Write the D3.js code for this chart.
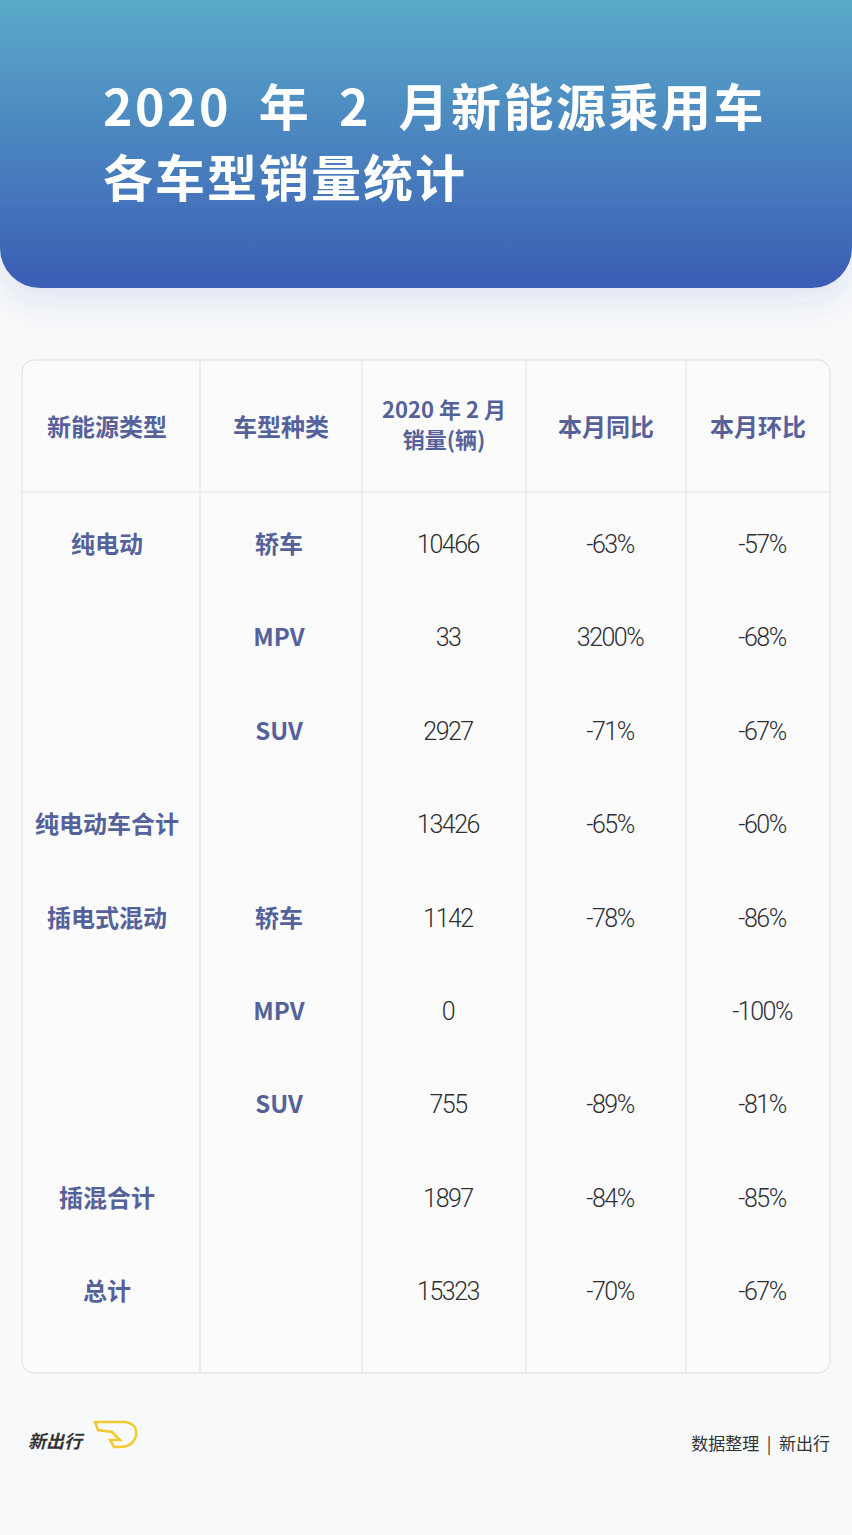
<!DOCTYPE html>
<html><head><meta charset="utf-8">
<script src="https://cdn.jsdelivr.net/npm/d3@7"></script>
<style>body{margin:0;background:#f8f9fa}</style></head>
<body><svg id="c" width="852" height="1535"></svg>
<script>
const headers=[["新能源类型"],["车型种类"],["2020 年 2 月","销量(辆)"],["本月同比"],["本月环比"]];
const energyType=["纯电动","","","纯电动车合计","插电式混动","","","插混合计","总计"];
const carType=["轿车","MPV","SUV","","轿车","MPV","SUV","",""];
const sales=["10466","33","2927","13426","1142","0","755","1897","15323"];
const yoy=["-63%","3200%","-71%","-65%","-78%","","-89%","-84%","-70%"];
const mom=["-57%","-68%","-67%","-60%","-86%","-100%","-81%","-85%","-67%"];
const colEdges=[22,200,362,526,686,830];

const svg=d3.select("#c");
const defs=svg.append("defs");
const g=defs.append("linearGradient").attr("id","hg").attr("x1",0).attr("y1",0).attr("x2",0).attr("y2",1);
g.append("stop").attr("offset","0%").attr("stop-color","#5aaac9");
g.append("stop").attr("offset","100%").attr("stop-color","#3a5db5");
const f=defs.append("filter").attr("id","sh").attr("x","-10%").attr("y","-10%").attr("width","120%").attr("height","140%");
f.append("feDropShadow").attr("dx",0).attr("dy",14).attr("stdDeviation",14).attr("flood-color","#3a5db5").attr("flood-opacity",0.12);
svg.append("path").attr("filter","url(#sh)").attr("fill","url(#hg)")
 .attr("d","M0,0H852V248A40,40 0 0 1 812,288H40A40,40 0 0 1 0,248Z");
const t=svg.append("g").attr("font-family","Noto Sans CJK SC").attr("font-weight",700).attr("fill","#fff").attr("font-size",50);
t.append("text").attr("x",103).attr("y",126).attr("xml:space","preserve").attr("letter-spacing",2.5).text("2020  年  2  月新能源乘用车");
t.append("text").attr("x",103).attr("y",197).attr("letter-spacing",2).text("各车型销量统计");

svg.append("rect").attr("x",22).attr("y",360).attr("width",808).attr("height",1013).attr("rx",12)
 .attr("fill","#fbfbfc").attr("stroke","#dcdde2");
const x=d3.scaleOrdinal().domain(d3.range(5)).range(colEdges.slice(0,5).map((e,i)=>(e+colEdges[i+1])/2));
const y=d3.scaleBand().domain(d3.range(9)).range([498,1339]);
svg.selectAll("line.v").data(colEdges.slice(1,5)).join("line").attr("x1",d=>d).attr("x2",d=>d)
 .attr("y1",360).attr("y2",1373).attr("stroke","#e0e1e5");
svg.append("line").attr("x1",22).attr("x2",830).attr("y1",492).attr("y2",492).attr("stroke","#e0e1e5");

const hd=svg.append("g").attr("font-family","Noto Sans CJK SC").attr("font-weight",700).attr("fill","#55629a").attr("font-size",24).attr("text-anchor","middle");
headers.forEach((h,i)=>{
  h.forEach((s,j)=>hd.append("text").attr("x",x(i)+(i==0?-4:0)).attr("y",(h.length==1?436:418)+j*30)
    .attr("font-size",h.length==1?24:22).text(s));
});
const cy=i=>y(i)+y.bandwidth()/2+8;
const lab=svg.append("g").attr("font-family","Noto Sans CJK SC").attr("font-weight",700).attr("fill","#55629a").attr("font-size",24).attr("text-anchor","middle");
lab.selectAll("text.a").data(energyType).join("text").attr("x",x(0)-4).attr("y",(d,i)=>cy(i)).text(d=>d);
lab.selectAll("text.b").data(carType).join("text").attr("x",x(1)-2).attr("y",(d,i)=>cy(i)).text(d=>d);
const num=svg.append("g").attr("font-family","Roboto").attr("font-weight",300).attr("fill","#2f2f33").attr("font-size",25).attr("text-anchor","middle");
[sales,yoy,mom].forEach((arr,k)=>{
  num.selectAll("text.c"+k).data(arr).join("text").attr("x",x(k+2)+4).attr("y",(d,i)=>cy(i)).attr("letter-spacing",-1.5).text(d=>d);
});
// footer
const ft=svg.append("g").attr("font-family","Noto Sans CJK SC");
ft.append("text").attr("x",28).attr("y",1448).attr("font-size",18).attr("font-weight",700).attr("font-style","italic").attr("fill","#333").text("新出行");
ft.append("path").attr("d","M95,1422 H125 Q138,1424 136,1436 Q133,1447 120,1447 L114,1447 L110,1440 L120,1440 L112,1432 L98,1430 Z")
 .attr("fill","none").attr("stroke","#f2c92e").attr("stroke-width",2.5);
ft.append("text").attr("x",830).attr("y",1450).attr("text-anchor","end").attr("font-size",17).attr("fill","#333").attr("xml:space","preserve").text("数据整理  |  新出行");
</script></body></html>
